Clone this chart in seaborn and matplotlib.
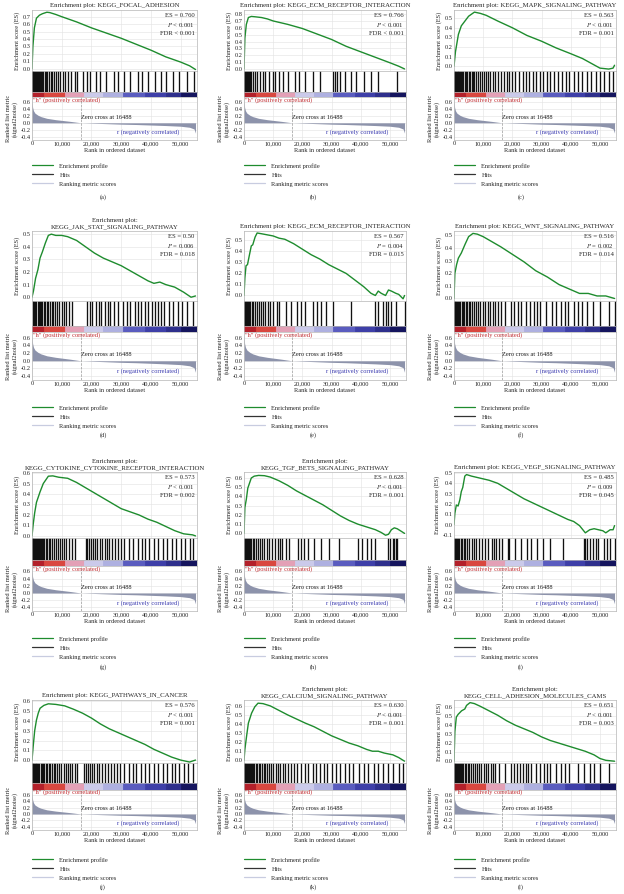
import numpy as np
import matplotlib
matplotlib.use("Agg")
import matplotlib.pyplot as plt
import matplotlib.ticker as mticker
from matplotlib.lines import Line2D
import seaborn as sns

sns.set_theme(style="whitegrid")
plt.rcParams["font.family"] = ["Liberation Serif", "DejaVu Serif"]
plt.rcParams["mathtext.fontset"] = "stix"

# ---- data (ranks in thousands) ----
titles = [
    "Enrichment plot: KEGG_FOCAL_ADHESION",
    "Enrichment plot: KEGG_ECM_RECEPTOR_INTERACTION",
    "Enrichment plot: KEGG_MAPK_SIGNALING_PATHWAY",
    "Enrichment plot:\nKEGG_JAK_STAT_SIGNALING_PATHWAY",
    "Enrichment plot: KEGG_ECM_RECEPTOR_INTERACTION",
    "Enrichment plot: KEGG_WNT_SIGNALING_PATHWAY",
    "Enrichment plot:\nKEGG_CYTOKINE_CYTOKINE_RECEPTOR_INTERACTION",
    "Enrichment plot:\nKEGG_TGF_BETS_SIGNALING_PATHWAY",
    "Enrichment plot: KEGG_VEGF_SIGNALING_PATHWAY",
    "Enrichment plot: KEGG_PATHWAYS_IN_CANCER",
    "Enrichment plot:\nKEGG_CALCIUM_SIGNALING_PATHWAY",
    "Enrichment plot:\nKEGG_CELL_ADHESION_MOLECULES_CAMS",
]
es_values = ["0.760", "0.766", "0.563", "0.50", "0.567", "0.516",
             "0.573", "0.628", "0.485", "0.576", "0.630", "0.651"]
p_values = ["< 0.001", "< 0.001", "< 0.001", "= 0.006", "= 0.004", "= 0.002",
            "< 0.001", "< 0.001", "= 0.009", "< 0.001", "< 0.001", "< 0.001"]
fdr_values = ["< 0.001", "< 0.001", "= 0.001", "= 0.018", "= 0.015", "= 0.014",
              "= 0.002", "= 0.001", "= 0.045", "= 0.001", "= 0.001", "= 0.003"]
captions = ["(a)", "(b)", "(c)", "(d)", "(e)", "(f)",
            "(g)", "(h)", "(i)", "(j)", "(k)", "(l)"]
es_ylims = [(-0.03, 0.79), (-0.03, 0.86), (-0.05, 0.585), (-0.03, 0.525),
            (-0.05, 0.585), (-0.02, 0.535), (-0.02, 0.61), (-0.05, 0.665),
            (-0.13, 0.51), (-0.03, 0.615), (-0.03, 0.665), (-0.02, 0.68)]

es_a = [(0, 0), (0.3, 0.3), (0.8, 0.55), (1.5, 0.68), (2.5, 0.72), (3.5, 0.74), (5, 0.76),
        (6, 0.755), (8, 0.73), (10, 0.70), (15, 0.63), (20, 0.55), (25, 0.48), (30, 0.41),
        (35, 0.33), (40, 0.25), (45, 0.16), (50, 0.09), (53, 0.04), (55, -0.01)]
es_b = [(0, 0), (0.3, 0.45), (0.8, 0.65), (1.5, 0.75), (2.5, 0.766), (4, 0.76), (6, 0.75),
        (8, 0.73), (10, 0.70), (15, 0.65), (20, 0.59), (25, 0.51), (30, 0.43), (35, 0.33),
        (40, 0.25), (45, 0.17), (50, 0.09), (53, 0.04), (55, 0.0)]
es_c = [(0, 0), (0.5, 0.15), (1.5, 0.33), (2.5, 0.42), (3.5, 0.46), (5, 0.52), (7, 0.563),
        (9, 0.55), (11, 0.53), (15, 0.47), (20, 0.40), (25, 0.32), (30, 0.26), (35, 0.19),
        (40, 0.13), (44, 0.08), (47, 0.03), (50, -0.02), (53, -0.03), (54.5, -0.02), (55, 0.01)]
es_d = [(0, 0), (0.5, 0.05), (1.2, 0.15), (2, 0.22), (2.7, 0.31), (3.5, 0.36), (4.5, 0.43),
        (5.5, 0.49), (6.5, 0.50), (8, 0.49), (10, 0.49), (12, 0.48), (15, 0.45), (18, 0.40),
        (21, 0.35), (24, 0.31), (27, 0.28), (30, 0.25), (33, 0.21), (36, 0.17), (39, 0.13),
        (41, 0.11), (43, 0.12), (45, 0.10), (48, 0.08), (51, 0.04), (53.5, 0.0), (55, 0.01)]
es_e = [(0, 0), (0.3, 0.16), (0.7, 0.27), (1.2, 0.28), (1.8, 0.36), (2.5, 0.45), (3.0, 0.46),
        (3.8, 0.53), (4.5, 0.567), (6, 0.56), (8, 0.55), (10, 0.54), (12, 0.52), (14, 0.51),
        (17, 0.47), (20, 0.42), (23, 0.37), (26, 0.33), (29, 0.28), (32, 0.24), (35, 0.20),
        (38, 0.14), (41, 0.08), (43.5, 0.02), (45, 0.0), (46, 0.04), (47, 0.02), (48.5, 0.0),
        (49.5, 0.05), (50.5, 0.04), (52, 0.02), (53, 0.01), (54.5, -0.03), (55, 0.0)]
es_f = [(0, 0), (0.3, 0.2), (0.9, 0.27), (1.5, 0.32), (2.5, 0.36), (3.8, 0.43), (5, 0.49),
        (6.5, 0.516), (8, 0.51), (10, 0.49), (13, 0.45), (16, 0.41), (20, 0.35), (24, 0.29),
        (28, 0.22), (32, 0.17), (36, 0.11), (40, 0.07), (43, 0.04), (46, 0.04), (49, 0.02),
        (52, 0.02), (55, 0.0)]
es_g = [(0, 0), (0.4, 0.11), (0.9, 0.22), (1.5, 0.32), (2.7, 0.42), (3.8, 0.5), (5.5, 0.57),
        (7, 0.573), (9, 0.56), (12, 0.55), (15, 0.51), (18, 0.46), (21, 0.41), (24, 0.36),
        (27, 0.31), (30, 0.26), (33, 0.23), (36, 0.20), (39, 0.16), (42, 0.13), (45, 0.09),
        (48, 0.05), (51, 0.02), (54, 0.01), (55, 0.0)]
es_h = [(0, 0), (0.3, 0.28), (0.8, 0.37), (1.3, 0.49), (2.5, 0.6), (3.5, 0.62), (5, 0.628),
        (7, 0.625), (9, 0.61), (12, 0.57), (15, 0.52), (18, 0.46), (21, 0.41), (24, 0.36),
        (27, 0.31), (30, 0.25), (33, 0.19), (36, 0.14), (39, 0.10), (42, 0.07), (45, 0.04),
        (47, 0.01), (48.5, -0.02), (49.5, -0.01), (50.5, 0.04), (51.5, 0.06), (52.5, 0.05),
        (54, 0.02), (55, 0.0)]
es_i = [(0, 0), (0.3, 0.11), (0.8, 0.19), (1.4, 0.18), (2.0, 0.24), (2.5, 0.32), (3.0, 0.36),
        (3.7, 0.47), (4.3, 0.485), (6, 0.47), (9, 0.45), (12, 0.43), (15, 0.40), (18, 0.35),
        (21, 0.30), (24, 0.25), (27, 0.21), (30, 0.17), (33, 0.13), (36, 0.09), (39, 0.05),
        (41, 0.03), (43, -0.01), (45, -0.08), (46.5, -0.05), (48, -0.04), (49.5, -0.05),
        (51, -0.06), (52, -0.08), (53.5, -0.05), (54.5, -0.05), (55, -0.01)]
es_j = [(0, 0), (0.4, 0.14), (0.9, 0.30), (1.5, 0.41), (2.1, 0.48), (2.7, 0.53), (4, 0.56),
        (5.5, 0.576), (8, 0.57), (11, 0.555), (14, 0.52), (17, 0.48), (20, 0.43), (23, 0.37),
        (26, 0.32), (29, 0.28), (32, 0.24), (35, 0.20), (38, 0.16), (41, 0.11), (44, 0.07),
        (47, 0.03), (50, 0.0), (53, -0.02), (55, 0.0)]
es_k = [(0, 0), (0.3, 0.12), (0.9, 0.27), (1.5, 0.41), (2.6, 0.52), (3.7, 0.59), (4.8, 0.63),
        (6.5, 0.625), (9, 0.60), (12, 0.55), (15, 0.50), (18, 0.455), (21, 0.41), (24, 0.37),
        (27, 0.32), (30, 0.27), (33, 0.23), (36, 0.19), (39, 0.16), (42, 0.12), (44, 0.10),
        (46, 0.10), (48, 0.08), (51, 0.06), (53, 0.03), (55, -0.01)]
es_l = [(0, 0), (0.3, 0.33), (0.8, 0.49), (1.4, 0.52), (2.6, 0.56), (3.7, 0.58), (4.3, 0.62),
        (5.5, 0.651), (7, 0.64), (9, 0.61), (12, 0.56), (15, 0.51), (18, 0.45), (21, 0.40),
        (24, 0.36), (27, 0.32), (30, 0.27), (33, 0.23), (36, 0.20), (39, 0.17), (42, 0.14),
        (45, 0.11), (48, 0.07), (50, 0.03), (52, 0.01), (55, 0.0)]

hits_a = [0.1, 0.3, 0.5, 0.8, 1.0, 1.3, 1.6, 2.0, 2.3, 2.7, 3.0, 3.4, 3.8, 4.3, 4.8, 5.2, 5.7,
          6.3, 6.8, 7.5, 8.1, 8.8, 9.5, 10.3, 11.0, 12.0, 13.2, 14.5, 15.3, 17.0, 18.5, 19.6,
          21.5, 23.0, 24.8, 27.5, 29.0, 31.0, 33.0, 35.5, 37.0, 39.0, 41.5, 43.5, 45.0, 47.5,
          49.5, 52.0, 54.5]
hits_b = [0.1, 0.3, 0.6, 0.9, 1.2, 1.6, 2.0, 2.4, 3.0, 3.8, 4.5, 5.5, 6.5, 7.3, 8.5, 9.8, 10.5,
          12.0, 13.5, 15.0, 17.5, 19.0, 21.0, 23.5, 26.0, 30.5, 31.2, 32.0, 33.0, 34.5, 36.5,
          38.5, 41.0, 43.5, 46.0, 52.5]
hits_c = [0.1, 0.3, 0.5, 0.7, 0.9, 1.2, 1.5, 1.8, 2.1, 2.4, 2.8, 3.2, 3.6, 4.0, 4.5, 5.0, 5.5,
          6.0, 6.5, 7.0, 7.6, 8.2, 8.8, 9.5, 10.2, 11.0, 11.8, 12.5, 13.3, 14.2, 15.0, 16.0,
          17.2, 18.0, 19.0, 20.0, 21.0, 22.3, 23.5, 24.5, 25.8, 27.0, 28.2, 29.5, 30.5, 31.8,
          33.0, 34.2, 35.5, 37.0, 38.3, 39.5, 41.0, 42.5, 44.0, 45.5, 47.0, 48.5, 50.0, 51.5,
          53.0, 54.5]
hits_d = [0.2, 0.5, 0.8, 1.1, 1.5, 1.9, 2.3, 2.7, 3.1, 3.5, 4.0, 4.5, 5.0, 5.5, 6.0, 6.6, 7.2,
          7.8, 8.5, 9.2, 10.0, 10.8, 11.5, 12.3, 13.5, 18.5, 19.5, 20.3, 21.5, 22.5, 23.3, 24.5,
          25.5, 26.2, 27.5, 29.0, 30.5, 32.0, 33.0, 34.5, 35.5, 36.5, 38.0, 39.0, 40.5, 41.5,
          42.5, 43.5, 44.5, 46.0, 47.5, 49.0, 50.5, 52.0, 54.0]
hits_e = [0.1, 0.3, 0.6, 1.0, 1.4, 1.8, 2.2, 2.7, 3.2, 3.7, 4.3, 5.0, 5.8, 6.5, 7.3, 8.2, 9.0,
          10.0, 11.2, 12.0, 14.5, 16.0, 18.0, 19.5, 21.0, 23.5, 25.0, 26.5, 28.0, 30.5, 36.5,
          45.0, 46.0, 47.5, 48.5, 49.5, 50.5, 52.0, 55.0]
hits_f = [0.1, 0.3, 0.5, 0.8, 1.1, 1.4, 1.8, 2.2, 2.6, 3.0, 3.5, 4.0, 4.5, 5.0, 5.6, 6.2, 6.8,
          7.5, 8.2, 9.0, 9.8, 10.6, 11.5, 12.4, 13.3, 14.2, 15.2, 16.2, 17.5, 19.5, 20.5, 22.0,
          23.0, 24.5, 26.0, 27.5, 28.5, 29.5, 31.5, 33.5, 35.0, 36.5, 38.0, 39.0, 41.0, 42.5,
          44.0, 45.5, 47.5, 50.0, 53.0, 55.0]
hits_g = [0.1, 0.3, 0.5, 0.7, 1.0, 1.3, 1.6, 1.9, 2.2, 2.6, 3.0, 3.4, 3.8, 4.2, 4.7, 5.2, 5.7,
          6.2, 6.8, 7.4, 8.0, 8.7, 9.4, 10.1, 10.8, 11.5, 12.5, 13.5, 14.5, 18.0, 18.6, 19.2,
          19.9, 20.6, 21.3, 22.0, 22.8, 23.6, 24.4, 25.2, 26.0, 27.0, 28.0, 29.0, 30.0, 31.0,
          32.5, 34.0, 35.5, 37.0, 38.0, 39.5, 41.0, 42.5, 44.0, 45.5, 47.0, 48.5, 50.0, 51.5,
          53.0, 54.0]
hits_h = [0.1, 0.3, 0.6, 0.9, 1.2, 1.6, 2.0, 2.5, 3.0, 3.5, 4.1, 4.8, 5.5, 6.2, 7.0, 7.8, 8.6,
          9.5, 10.5, 11.5, 12.3, 13.0, 14.5, 15.5, 18.5, 19.5, 20.5, 22.0, 24.0, 26.5, 29.0,
          32.5, 39.0, 40.5, 42.0, 43.5, 45.0, 49.5, 50.0, 51.0, 51.5, 52.0, 52.5]
hits_i = [0.1, 0.3, 0.6, 1.0, 1.4, 1.8, 2.3, 2.8, 3.3, 3.8, 4.5, 5.2, 6.0, 6.8, 7.6, 8.5, 9.5,
          10.5, 11.5, 13.0, 13.8, 14.5, 15.5, 16.5, 18.5, 19.0, 21.0, 23.0, 25.0, 26.5, 28.5,
          30.5, 33.0, 37.5, 44.5, 45.0, 45.5, 46.5, 47.5, 48.5, 49.5, 51.5, 52.5, 53.5, 55.0]
hits_j = [0.1, 0.3, 0.5, 0.7, 0.9, 1.2, 1.5, 1.8, 2.1, 2.5, 2.9, 3.3, 3.7, 4.1, 4.6, 5.1, 5.6,
          6.1, 6.7, 7.3, 7.9, 8.5, 9.2, 9.9, 10.6, 11.3, 12.0, 12.8, 13.6, 14.4, 15.0, 17.5,
          18.1, 18.8, 19.5, 20.2, 21.0, 21.8, 22.6, 23.5, 24.5, 25.5, 26.5, 27.5, 28.5, 29.5,
          31.0, 32.5, 34.0, 35.0, 36.5, 38.0, 39.5, 41.0, 42.5, 44.0, 45.5, 47.0, 48.0, 49.5,
          51.0, 52.5, 54.0]
hits_k = [0.1, 0.3, 0.5, 0.7, 1.0, 1.3, 1.6, 1.9, 2.3, 2.7, 3.1, 3.5, 4.0, 4.5, 5.0, 5.5, 6.1,
          6.7, 7.3, 7.9, 8.6, 9.3, 10.0, 10.8, 11.6, 12.4, 13.2, 14.0, 15.0, 16.0, 17.0, 18.0,
          19.5, 21.0, 22.0, 23.5, 24.5, 26.0, 27.5, 28.5, 30.0, 31.5, 33.0, 34.5, 36.0, 37.5,
          39.5, 41.0, 42.5, 44.5, 46.0, 47.5, 49.5, 51.0, 53.0, 54.5]
hits_l = [0.1, 0.3, 0.5, 0.7, 1.0, 1.3, 1.6, 2.0, 2.4, 2.8, 3.2, 3.7, 4.2, 4.7, 5.3, 5.9, 6.5,
          7.2, 7.9, 8.6, 9.4, 10.2, 11.0, 11.8, 12.6, 13.4, 14.2, 15.5, 17.5, 19.5, 20.5, 21.5,
          22.5, 23.5, 24.5, 25.5, 26.5, 28.0, 29.5, 31.0, 32.0, 33.0, 35.0, 36.5, 38.0, 39.5,
          42.5, 44.5, 46.5, 48.0, 50.0, 53.0]

# ranked list metric (same dataset in every panel)
metric_rank = [0, 0.2, 0.5, 1, 2, 3, 5, 8, 10, 13, 16.488, 20, 25, 30, 35, 40, 45, 50, 53,
               54.5, 55]
metric_value = [0.65, 0.45, 0.35, 0.28, 0.22, 0.18, 0.13, 0.09, 0.07, 0.04, 0.0, -0.01,
                -0.025, -0.04, -0.05, -0.065, -0.08, -0.1, -0.13, -0.18, -0.3]
zero_cross = 16488

# red -> blue colour bar under the hits
bar_edges = [0, 4, 11, 17.5, 24, 30.5, 38, 45, 50, 55.5]
bar_colors = ["#b3202a", "#d9473f", "#e3a0b6", "#cbcaea", "#aeb0e0",
              "#5a5cbf", "#3e3fa8", "#2e2f8c", "#15155e"]

es_curves = [es_a, es_b, es_c, es_d, es_e, es_f, es_g, es_h, es_i, es_j, es_k, es_l]
hit_lists = [hits_a, hits_b, hits_c, hits_d, hits_e, hits_f,
             hits_g, hits_h, hits_i, hits_j, hits_k, hits_l]

# ---- layout (pixels) ----
W, H = 624, 894
col_left = [32, 244, 454]
col_width = [165, 162, 162]
caption_x = [103, 313, 521]
# es_top, es_h, hits_h, bar_h, rank_h, legend_top, caption_y
rows = [
    (10, 61, 21, 5, 43, 163, 197),
    (231, 70, 25, 6, 48, 405, 435),
    (472, 66, 22, 6, 45, 636, 667),
    (700, 63, 20, 7, 40, 857, 887),
]

GREEN = "#1e8c2e"
RANK_FILL = "#8d93ab"
FRAME = "#b5b5b5"
GRID = "#e2e2e2"
FS = 4.6
XMAX = 55500


def rect(x, y, w, h):
    return [x / W, 1 - (y + h) / H, w / W, h / H]


def style(ax):
    for s in ax.spines.values():
        s.set_color(FRAME)
        s.set_linewidth(0.5)
    ax.tick_params(labelsize=FS, pad=1, length=0)
    ax.set_xlim(0, XMAX)


fig = plt.figure(figsize=(W / 100, H / 100), dpi=100)

for i in range(12):
    r, c = divmod(i, 3)
    es_top, es_h, hit_h, bar_h, rank_h, leg_top, cap_y = rows[r]
    x0, w = col_left[c], col_width[c]

    ax_es = fig.add_axes(rect(x0, es_top, w, es_h))
    ax_hit = fig.add_axes(rect(x0, es_top + es_h, w, hit_h))
    ax_bar = fig.add_axes(rect(x0, es_top + es_h + hit_h, w, bar_h))
    ax_rank = fig.add_axes(rect(x0, es_top + es_h + hit_h + bar_h, w, rank_h))

    # enrichment score
    ex = [p[0] * 1000 for p in es_curves[i]]
    ey = [p[1] for p in es_curves[i]]
    sns.lineplot(x=ex, y=ey, ax=ax_es, color=GREEN, lw=1.0, sort=False)
    style(ax_es)
    ax_es.set_ylim(*es_ylims[i])
    ax_es.yaxis.set_major_locator(mticker.MultipleLocator(0.1))
    ax_es.yaxis.set_major_formatter(mticker.FormatStrFormatter("%.1f"))
    ax_es.xaxis.set_major_locator(mticker.MultipleLocator(10000))
    ax_es.set_xticklabels([])
    ax_es.grid(color=GRID, lw=0.4)
    ax_es.set_ylabel("Enrichment score (ES)", fontsize=FS, labelpad=2)
    ax_es.set_title(titles[i], fontsize=4.9, pad=2, linespacing=1.3)
    ax_es.text(0.985, 0.95,
               f"ES = {es_values[i]}\n$\\mathit{{P}}$ {p_values[i]}\nFDR {fdr_values[i]}",
               transform=ax_es.transAxes, ha="right", va="top", fontsize=4.8,
               linespacing=1.45)

    # hits
    ax_hit.vlines([h * 1000 for h in hit_lists[i]], 0, 1, color="#111111", lw=0.95)
    style(ax_hit)
    ax_hit.set_ylim(0, 1)
    ax_hit.set_xticks([])
    ax_hit.set_yticks([])
    ax_hit.grid(False)

    # colour bar
    ax_bar.broken_barh([(bar_edges[k] * 1000, (bar_edges[k + 1] - bar_edges[k]) * 1000)
                        for k in range(len(bar_colors))], (0, 1), facecolors=bar_colors,
                       edgecolors=bar_colors, linewidth=0.6)
    style(ax_bar)
    ax_bar.set_ylim(0, 1)
    ax_bar.set_xticks([])
    ax_bar.set_yticks([])
    ax_bar.grid(False)

    # ranked list metric
    mx = [m * 1000 for m in metric_rank]
    ax_rank.fill_between(mx, metric_value, 0, color=RANK_FILL, lw=0)
    style(ax_rank)
    ax_rank.set_ylim(-0.5, 0.75)
    ax_rank.yaxis.set_major_locator(mticker.FixedLocator([-0.4, -0.2, 0.0, 0.2, 0.4, 0.6]))
    ax_rank.yaxis.set_major_formatter(mticker.FormatStrFormatter("%.1f"))
    ax_rank.xaxis.set_major_locator(mticker.MultipleLocator(10000))
    ax_rank.xaxis.set_major_formatter(mticker.FuncFormatter(lambda v, p: f"{int(v):,}"))
    ax_rank.grid(color=GRID, lw=0.4)
    ax_rank.axvline(zero_cross, color="#999999", lw=0.5, ls="--")
    ax_rank.text(500, 0.67, '"h" (positively correlated)', color="#c0282d",
                 fontsize=FS, va="center", ha="left")
    ax_rank.text(zero_cross, 0.16, "Zero cross at 16488", color="#222222",
                 fontsize=FS, va="center", ha="left")
    ax_rank.text(49500, -0.27, "r (negatively correlated)", color="#3a3ab0",
                 fontsize=FS, va="center", ha="right")
    ax_rank.set_ylabel("Ranked list metric\n(signal2noise)", fontsize=FS, labelpad=2,
                       linespacing=1.1)
    ax_rank.set_xlabel("Rank in ordered dataset", fontsize=FS, labelpad=1.5)

    handles = [Line2D([], [], color=GREEN, lw=0.9),
               Line2D([], [], color="#333333", lw=0.9),
               Line2D([], [], color="#c8cce0", lw=0.9)]
    fig.legend(handles, ["Enrichment profile", "Hits", "Ranking metric scores"],
               loc="upper left", bbox_to_anchor=(x0 / W, 1 - leg_top / H),
               bbox_transform=fig.transFigure, frameon=False, fontsize=FS,
               handlelength=3.3, handletextpad=1.0, labelspacing=0.55,
               borderaxespad=0, borderpad=0)
    fig.text(caption_x[c] / W, 1 - cap_y / H, captions[i], fontsize=FS,
             ha="center", va="center")

fig.savefig("out.png", dpi=100, facecolor="white")
